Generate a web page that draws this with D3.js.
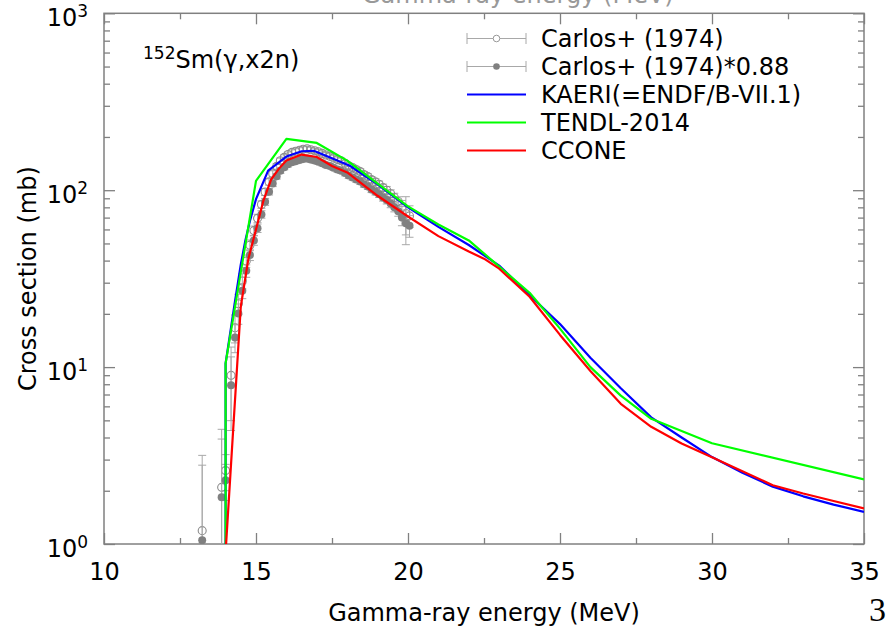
<!DOCTYPE html>
<html><head><meta charset="utf-8">
<script src="https://cdn.jsdelivr.net/npm/d3@7"></script>
<style>
body{margin:0;background:#fff}
svg{display:block}
text{font-family:"DejaVu Sans",sans-serif}
text.serif{font-family:"Liberation Serif",serif}
</style>
</head><body>
<svg id="c" width="891" height="628"></svg>
<script>
// ---------------- DATA ----------------
const carlosE = [13.23,13.87,14.00,14.18,14.31,14.42,14.55,14.68,14.80,14.93,15.05,15.18,15.30,15.43,15.55,15.68,15.80,15.93,16.05,16.18,16.30,16.43,16.55,16.68,16.80,16.93,17.05,17.18,17.30,17.43,17.55,17.68,17.80,17.93,18.05,18.18,18.30,18.43,18.55,18.68,18.80,18.93,19.05,19.18,19.30,19.43,19.55,19.68,19.80,19.93,20.05];
const carlosY = [1.19,2.09,2.60,8.98,16.7,22.8,30.7,39.8,48.9,59.1,69.3,83.0,97.7,111.4,123.9,136.4,146.6,153.4,159.1,163.6,165.9,168.2,170.5,171.6,169.3,167.0,164.8,161.4,158.0,155.7,152.3,148.9,146.6,142.0,137.5,134.1,130.7,127.3,122.7,119.3,114.8,111.4,108.0,103.4,100.0,95.5,90.9,86.4,79.5,73.9,71.6];
const carlosErr = [1.98,2.36,0.6,4.0,3.0,3.0,3.0,3.2,3.4,3.6,3.8,4.0,4.4,4.6,4.8,5.0,5.2,5.2,5.4,5.4,5.6,5.6,5.6,5.6,5.6,5.6,5.4,5.4,5.4,5.2,5.2,5.2,5.0,5.0,5.0,4.8,4.8,4.8,4.6,4.6,4.6,4.6,4.6,4.8,5.0,5.0,5.2,5.4,8.0,18.0,10.0];
const scaledY = [1.05,1.84,2.29,7.9,14.7,20.1,27,35,43,52,61,73,86,98,109,120,129,135,140,144,146,148,150,151,149,147,145,142,139,137,134,131,129,125,121,118,115,112,108,105,101,98,95,91,88,84,80,76,70,65,63];
const scaledErr = [1.74,2.08,0.53,3.52,2.64,2.64,2.64,2.82,2.99,3.17,3.34,3.52,3.87,4.05,4.22,4.40,4.58,4.58,4.75,4.75,4.93,4.93,4.93,4.93,4.93,4.93,4.75,4.75,4.75,4.58,4.58,4.58,4.40,4.40,4.40,4.22,4.22,4.22,4.05,4.05,4.05,4.05,4.05,4.22,4.40,4.40,4.58,4.75,7.04,15.8,8.8];

const kaeriE = [14.0,14.0,14.3,14.5,14.65,14.8,15.0,15.4,16.0,16.5,16.9,17.6,18.1,19,20,21,22,23,24,25,26,27,28,29,30,31,32,33,34,35];
const kaeriY = [0.05,10.5,23,38,52,67,89,129,155,166,167,149,137,108,80,62,49,37.5,25.5,17.5,11.3,7.6,5.2,4.0,3.1,2.53,2.11,1.86,1.67,1.52];

const tendlE = [14.0,14.0,15,16,17,18,19,20,21,22,23,24,25,26,27,28,30,35];
const tendlY = [0.05,10.5,113,195,185,147,109,81,64,52,37,26.3,16.5,10,6.9,5.1,3.71,2.32];

const cconeE = [14.0,14.5,14.75,15.0,15.25,15.5,15.75,16.0,16.5,17.0,17.5,18.0,19,20,21,22,22.5,23,24,25,26,27,28,29,30,31,32,33,34,35];
const cconeY = [0.9,22,41,60,88,115,132,147,159,154,137,126,93,71,55,45,41,36,25,15.2,9.5,6.2,4.6,3.7,3.09,2.58,2.15,1.93,1.75,1.59];

const xMajor = [10,15,20,25,30,35];
const xMinor = [12.5,17.5,22.5,27.5,32.5];
const yMajorExp = [0,1,2,3];
const yMinor = [2,3,4,5,6,7,8,9,20,30,40,50,60,70,80,90,200,300,400,500,600,700,800,900];
const legendLabels = ["Carlos+ (1974)","Carlos+ (1974)*0.88","KAERI(=ENDF/B-VII.1)","TENDL-2014","CCONE"];
const xTitle = "Gamma-ray energy (MeV)";
const yTitle = "Cross section (mb)";

// ---------------- LAYOUT ----------------
const L = 104, R = 864, T = 13.3, B = 544;
const AX = "#808080";
const svg = d3.select("#c");
const x = d3.scaleLinear().domain([10,35]).range([L,R]);
const y = d3.scaleLog().domain([1,1000]).range([B,T]);

svg.append("defs").append("clipPath").attr("id","clip")
  .append("rect").attr("x",L).attr("y",T).attr("width",R-L).attr("height",B-T);

// cut-off top title (as in the reference)
svg.append("text").attr("x",362).attr("y",2.7).attr("font-size",24).attr("fill","#999").text(xTitle);

// ---------------- AXES ----------------
function styleAxis(g){
  g.select(".domain").remove();
  g.attr("font-family","DejaVu Sans").attr("font-size",24);
  g.selectAll("line").attr("stroke",AX).attr("stroke-width",1.3);
  g.selectAll("text").attr("fill","#000");
}
svg.append("g").attr("transform",`translate(0,${B})`)
  .call(d3.axisBottom(x).tickValues(xMajor).tickSize(-11).tickPadding(19).tickFormat(d3.format("d"))).call(styleAxis);
svg.append("g").attr("transform",`translate(0,${B})`)
  .call(d3.axisBottom(x).tickValues(xMinor).tickSize(-6).tickFormat("")).call(styleAxis);
svg.append("g").attr("transform",`translate(0,${T})`)
  .call(d3.axisTop(x).tickValues(xMajor).tickSize(-11).tickFormat("")).call(styleAxis);
svg.append("g").attr("transform",`translate(0,${T})`)
  .call(d3.axisTop(x).tickValues(xMinor).tickSize(-6).tickFormat("")).call(styleAxis);
const yMajorVals = yMajorExp.map(k => Math.pow(10,k));
svg.append("g").attr("transform",`translate(${L},0)`)
  .call(d3.axisLeft(y).tickValues(yMajorVals).tickSize(-11).tickFormat("")).call(styleAxis);
svg.append("g").attr("transform",`translate(${L},0)`)
  .call(d3.axisLeft(y).tickValues(yMinor).tickSize(-6).tickFormat("")).call(styleAxis);
svg.append("g").attr("transform",`translate(${R},0)`)
  .call(d3.axisRight(y).tickValues(yMajorVals).tickSize(-11).tickFormat("")).call(styleAxis);
svg.append("g").attr("transform",`translate(${R},0)`)
  .call(d3.axisRight(y).tickValues(yMinor).tickSize(-6).tickFormat("")).call(styleAxis);

// y tick labels 10^k
yMajorExp.forEach(k => {
  const t = svg.append("text").attr("x",88).attr("y",y(Math.pow(10,k))+13)
    .attr("text-anchor","end").attr("fill","#000");
  t.append("tspan").attr("font-size",24).text("10");
  t.append("tspan").attr("font-size",17).attr("dy",-9).text(String(k));
});

// frame
svg.append("rect").attr("x",L).attr("y",T).attr("width",R-L).attr("height",B-T)
  .attr("fill","none").attr("stroke",AX).attr("stroke-width",1.5);

// axis titles
svg.append("text").attr("x",(L+R)/2).attr("y",621).attr("text-anchor","middle")
  .attr("font-size",24).attr("fill","#000").text(xTitle);
svg.append("text").attr("transform",`translate(36,${(T+B)/2}) rotate(-90)`).attr("text-anchor","middle")
  .attr("font-size",24).attr("fill","#000").text(yTitle);

// page number (serif, as on the slide)
svg.append("text").attr("class","serif").attr("x",869).attr("y",621)
  .attr("font-size",34).attr("fill","#000").text("3");

// ---------------- DATA MARKS ----------------
const plot = svg.append("g").attr("clip-path","url(#clip)");
function errBars(E, V, Er, color){
  const g = plot.append("g").attr("stroke",color).attr("stroke-width",1).attr("fill","none");
  E.forEach((e,i) => {
    const lo = V[i]-Er[i] > 0 ? y(V[i]-Er[i]) : B+20;
    const hi = y(V[i]+Er[i]);
    const cx = x(e);
    g.append("line").attr("x1",cx).attr("x2",cx).attr("y1",lo).attr("y2",hi);
    g.append("line").attr("x1",cx-4).attr("x2",cx+4).attr("y1",hi).attr("y2",hi);
    g.append("line").attr("x1",cx-4).attr("x2",cx+4).attr("y1",lo).attr("y2",lo);
  });
}
errBars(carlosE, carlosY, carlosErr, "#a8a8a8");
plot.append("g").selectAll("circle").data(carlosE).join("circle")
  .attr("cx",d=>x(d)).attr("cy",(d,i)=>y(carlosY[i])).attr("r",4)
  .attr("fill","none").attr("stroke","#8c8c8c").attr("stroke-width",1.1);
errBars(carlosE, scaledY, scaledErr, "#a8a8a8");
plot.append("g").selectAll("circle").data(carlosE).join("circle")
  .attr("cx",d=>x(d)).attr("cy",(d,i)=>y(scaledY[i])).attr("r",4)
  .attr("fill","#808080");

const line = d3.line().x(d=>x(d[0])).y(d=>y(d[1]));
const curves = [
  {E:kaeriE, V:kaeriY, c:"#0000ff"},
  {E:tendlE, V:tendlY, c:"#00ff00"},
  {E:cconeE, V:cconeY, c:"#ff0000"}
];
curves.forEach(cv => {
  plot.append("path").datum(cv.E.map((e,i)=>[e,cv.V[i]]))
    .attr("d",line).attr("fill","none").attr("stroke",cv.c).attr("stroke-width",2.2)
    .attr("stroke-linejoin","round");
});

// ---------------- LEGEND / LABEL ----------------
const lab = svg.append("text").attr("x",143).attr("y",68).attr("fill","#000");
lab.append("tspan").attr("font-size",17).attr("dy",-9).text("152");
lab.append("tspan").attr("font-size",24).attr("dy",9).text("Sm(γ,x2n)");

const lg = svg.append("g");
const lx1 = 467, lx2 = 526, ltx = 541;
legendLabels.forEach((t,i) => {
  const yc = 38.5 + 28*i;
  if (i < 2) {
    lg.append("line").attr("x1",lx1).attr("x2",lx2).attr("y1",yc).attr("y2",yc).attr("stroke","#a8a8a8");
    [lx1,lx2].forEach(xx => lg.append("line").attr("x1",xx).attr("x2",xx).attr("y1",yc-5.5).attr("y2",yc+5.5).attr("stroke","#a8a8a8"));
    const c = lg.append("circle").attr("cx",(lx1+lx2)/2).attr("cy",yc).attr("r",3.3);
    if (i===0) c.attr("fill","#fff").attr("stroke","#999"); else c.attr("fill","#808080");
  } else {
    lg.append("line").attr("x1",lx1).attr("x2",lx2).attr("y1",yc).attr("y2",yc)
      .attr("stroke",curves[i-2].c).attr("stroke-width",2.2);
  }
  lg.append("text").attr("x",ltx).attr("y",yc+8.5).attr("font-size",24).attr("fill","#000").text(t);
});
</script>
</body></html>
